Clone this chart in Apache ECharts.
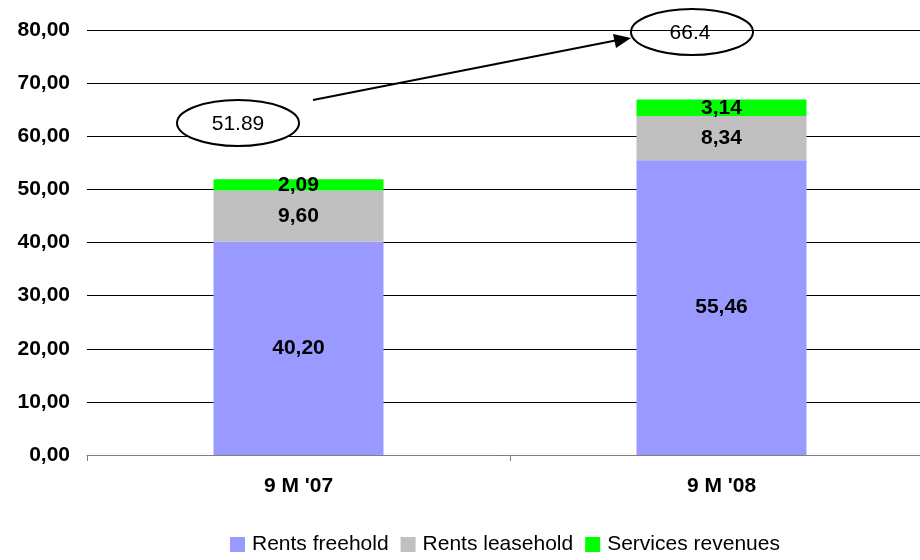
<!DOCTYPE html>
<html>
<head>
<meta charset="utf-8">
<script src="https://cdn.jsdelivr.net/npm/echarts@6/dist/echarts.min.js"></script>
<style>
  html, body { margin: 0; padding: 0; background: #fff; }
  #chart { width: 920px; height: 560px; }
</style>
</head>
<body>
<div id="chart"></div>
<script>
// Revenue breakdown, first nine months of each year
const categories = ["9 M '07", "9 M '08"];
const rentsFreehold = [40.20, 55.46];
const rentsLeasehold = [9.60, 8.34];
const servicesRevenues = [2.09, 3.14];
const totals = ["51.89", "66.4"];
const yTicks = { min: 0, max: 80, interval: 10 };

const FONT = '"Liberation Sans", Arial, sans-serif';
const fmt = v => v.toFixed(2).replace('.', ',');

const chart = echarts.init(document.getElementById('chart'));

function barSeries(name, data, color) {
  return {
    name: name,
    type: 'bar',
    stack: 'total',
    data: data,
    barWidth: 170,
    itemStyle: { color: color },
    label: {
      show: true,
      position: 'inside',
      color: '#000',
      fontFamily: FONT,
      fontWeight: 'bold',
      fontSize: 21,
      formatter: p => fmt(p.value)
    }
  };
}

chart.setOption({
  animation: false,
  backgroundColor: '#fff',
  // plot area runs past the right edge of the canvas
  grid: { left: 87, top: 30, height: 425, width: 846, outerBoundsMode: 'none', containLabel: false },
  legend: {
    bottom: 0,
    left: 225,
    itemWidth: 15,
    itemHeight: 15,
    itemGap: 12,
    icon: 'rect',
    textStyle: { fontFamily: FONT, fontSize: 21, color: '#000', padding: [0, 0, 0, 2] },
    data: ['Rents freehold', 'Rents leasehold', 'Services revenues']
  },
  xAxis: {
    type: 'category',
    data: categories,
    axisLine: { lineStyle: { color: '#808080', width: 1 } },
    axisTick: { show: true, length: 6, lineStyle: { color: '#808080' } },
    axisLabel: {
      color: '#000', fontFamily: FONT, fontWeight: 'bold', fontSize: 21, margin: 21
    }
  },
  yAxis: {
    type: 'value',
    min: yTicks.min,
    max: yTicks.max,
    interval: yTicks.interval,
    axisLine: { show: false },
    axisTick: { show: false },
    splitLine: { lineStyle: { color: '#000', width: 1 } },
    axisLabel: {
      color: '#000', fontFamily: FONT, fontWeight: 'bold', fontSize: 21, margin: 17,
      formatter: v => fmt(v)
    }
  },
  series: [
    barSeries('Rents freehold', rentsFreehold, '#9999FF'),
    barSeries('Rents leasehold', rentsLeasehold, '#C0C0C0'),
    barSeries('Services revenues', servicesRevenues, '#00FF00')
  ],
  graphic: [
    // growth arrow between the two total callouts
    {
      type: 'line',
      shape: { x1: 313, y1: 100, x2: 618, y2: 40 },
      style: { stroke: '#000', lineWidth: 2 },
      z: 10
    },
    {
      type: 'polygon',
      shape: { points: [[631, 38], [613, 34], [616, 48]] },
      style: { fill: '#000' },
      z: 10
    },
    {
      type: 'ellipse',
      shape: { cx: 238, cy: 123, rx: 61, ry: 23 },
      style: { fill: '#fff', stroke: '#000', lineWidth: 2 },
      z: 10
    },
    {
      type: 'text',
      x: 238, y: 124,
      style: {
        text: totals[0], fill: '#000', font: '21px ' + FONT,
        align: 'center', verticalAlign: 'middle'
      },
      z: 11
    },
    {
      type: 'ellipse',
      shape: { cx: 692, cy: 32, rx: 61, ry: 23 },
      style: { fill: 'rgba(255,255,255,0)', stroke: '#000', lineWidth: 2 },
      z: 10
    },
    {
      type: 'text',
      x: 690, y: 33,
      style: {
        text: totals[1], fill: '#000', font: '21px ' + FONT,
        align: 'center', verticalAlign: 'middle'
      },
      z: 11
    }
  ]
});
</script>
</body>
</html>
